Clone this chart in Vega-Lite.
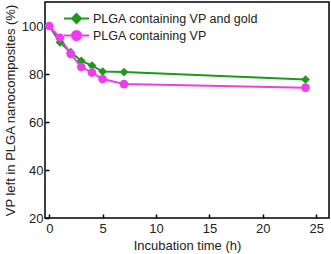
{
  "$schema": "https://vega.github.io/schema/vega-lite/v6.json",
  "width": 284,
  "height": 216,
  "autosize": {"type": "none"},
  "padding": {"left": 45, "top": 2, "right": 2, "bottom": 36},
  "background": "white",
  "data": {"values": [
    {"t": 0, "v": 100, "s": "PLGA containing VP and gold"},
    {"t": 1, "v": 93.2, "s": "PLGA containing VP and gold"},
    {"t": 2, "v": 89.1, "s": "PLGA containing VP and gold"},
    {"t": 3, "v": 85.5, "s": "PLGA containing VP and gold"},
    {"t": 4, "v": 83.5, "s": "PLGA containing VP and gold"},
    {"t": 5, "v": 81.0, "s": "PLGA containing VP and gold"},
    {"t": 7, "v": 80.8, "s": "PLGA containing VP and gold"},
    {"t": 24, "v": 77.7, "s": "PLGA containing VP and gold"},
    {"t": 0, "v": 100, "s": "PLGA containing VP"},
    {"t": 1, "v": 95.1, "s": "PLGA containing VP"},
    {"t": 2, "v": 88.4, "s": "PLGA containing VP"},
    {"t": 3, "v": 82.9, "s": "PLGA containing VP"},
    {"t": 4, "v": 80.6, "s": "PLGA containing VP"},
    {"t": 5, "v": 77.9, "s": "PLGA containing VP"},
    {"t": 7, "v": 75.8, "s": "PLGA containing VP"},
    {"t": 24, "v": 74.3, "s": "PLGA containing VP"}
  ]},
  "config": {
    "font": "Liberation Sans",
    "view": {"stroke": "black", "strokeWidth": 1.5},
    "axis": {"grid": false, "domain": false, "tickColor": "black", "tickSize": -4, "tickWidth": 1.5,
      "labelColor": "#222", "labelFontSize": 13, "titleFontSize": 13, "titleFontWeight": "normal", "titleColor": "#222", "labelFont": "Liberation Sans", "titleFont": "Liberation Sans"}
  },
  "encoding": {
    "x": {"field": "t", "type": "quantitative", "scale": {"domain": [-0.4, 26.2], "nice": false, "zero": false},
      "axis": {"values": [0, 5, 10, 15, 20, 25], "title": "Incubation time (h)", "labelPadding": 8, "titlePadding": 4}},
    "y": {"field": "v", "type": "quantitative", "scale": {"domain": [20, 110], "nice": false, "zero": false},
      "axis": {"values": [20, 40, 60, 80, 100], "title": "VP left in PLGA nanocomposites (%)", "labelPadding": 6, "titlePadding": 4}},
    "color": {"field": "s", "type": "nominal", "sort": ["PLGA containing VP and gold", "PLGA containing VP"],
      "scale": {"domain": ["PLGA containing VP and gold", "PLGA containing VP"], "range": ["#1c9a1c", "#f03cf0"]},
      "legend": {"title": null, "orient": "none", "legendX": 23, "legendY": 8, "labelFontSize": 12.5, "labelColor": "#222", "labelLimit": 0, "rowPadding": -1, "symbolStrokeWidth": 2, "symbolSize": 225, "labelOffset": 8,
        "encode": {"symbols": {"update": {
          "shape": {"signal": "datum.value === 'PLGA containing VP' ? 'M-1.67,0H1.67M0.6,0A0.6,0.6 0 1,1 -0.6,0A0.6,0.6 0 1,1 0.6,0' : 'M-1.67,0H1.67M0,-0.6L0.6,0L0,0.6L-0.6,0Z'"},
          "fill": {"scale": "color", "field": "value"},
          "stroke": {"scale": "color", "field": "value"},
          "strokeWidth": {"value": 2},
          "opacity": {"value": 1},
          "fillOpacity": {"value": 1}
        }}}}}
  },
  "layer": [
    {"mark": {"type": "line", "strokeWidth": 2}},
    {"mark": {"type": "point", "filled": true, "opacity": 1, "size": 75},
      "encoding": {"shape": {"condition": {"test": "datum.s === 'PLGA containing VP'", "value": "circle"}, "value": "diamond"}}}
  ]
}
